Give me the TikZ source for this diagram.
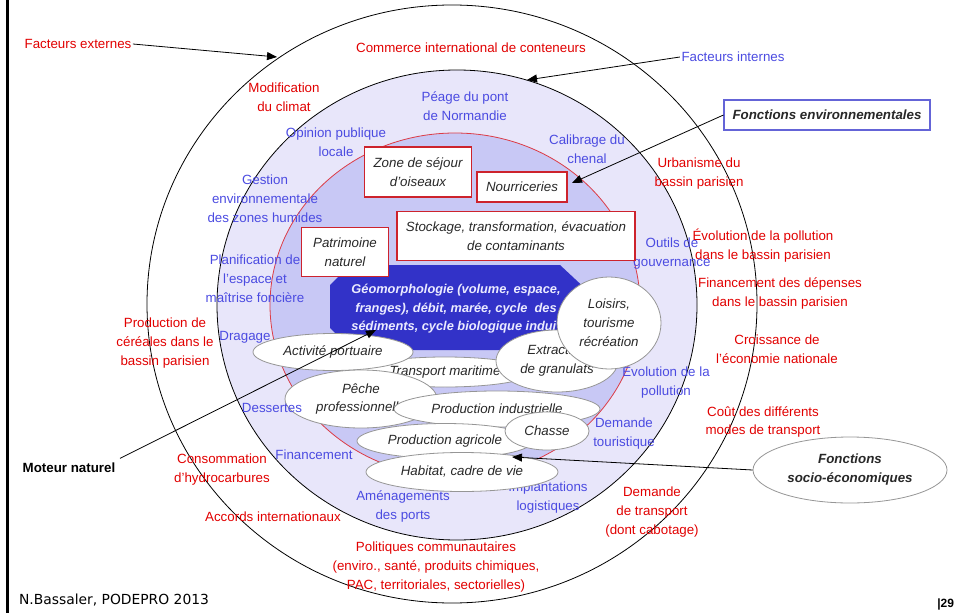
\documentclass[tikz,border=0pt]{standalone}
\usepackage{fontspec}
\setmainfont{Liberation Sans}
\newfontfamily\creditfont{DejaVu Sans}
\usetikzlibrary{shapes.geometric, arrows.meta}
\definecolor{extred}{RGB}{225,0,0}
\definecolor{intblue}{RGB}{75,75,225}
\definecolor{ringfill}{RGB}{232,230,250}
\definecolor{corefill}{RGB}{200,200,245}
\definecolor{corered}{RGB}{220,60,70}
\definecolor{geoblue}{RGB}{50,50,200}
\definecolor{geotext}{RGB}{235,235,255}
\definecolor{boxred}{RGB}{205,35,45}
\definecolor{boxblue}{RGB}{100,100,215}
\definecolor{ovalgray}{RGB}{150,150,150}
\definecolor{darktext}{RGB}{40,40,40}
\tikzset{
    extlabel/.style={
        text=extred, align=center, inner sep=1pt,
        font=\fontsize{10}{14.2}\selectfont
    },
    intlabel/.style={
        text=intblue, align=center, inner sep=1pt,
        font=\fontsize{10}{14.2}\selectfont
    },
    fonction/.style={
        rectangle, draw=boxred, line width=0.8pt, fill=white,
        inner sep=0pt, align=center, text=darktext,
        font=\fontsize{10}{14.2}\selectfont\itshape
    },
    activite/.style={
        ellipse, draw=ovalgray, line width=0.6pt, fill=white,
        inner sep=0pt, align=center, text=darktext,
        font=\fontsize{10}{14.2}\selectfont\itshape
    },
    dims/.style 2 args={minimum width=#1*0.75pt, minimum height=#2*0.75pt},
    pointer/.style={draw=black, line width=0.6pt, -{Triangle[length=7.5pt, width=6pt]}},
    ring/.style={draw=black, line width=0.6pt}
}

\begin{document}
\begin{tikzpicture}[x=0.75pt, y=-0.75pt]
\useasboundingbox (0,0) rectangle (955,613);

% Slide border
\draw[line width=2.4pt] (7.5,0) -- (7.5,613);

% Rings
\draw[ring] (452,304) ellipse [x radius=305, y radius=299];
\filldraw[ring, fill=ringfill] (457,305) ellipse [x radius=240, y radius=235];
\filldraw[fill=corefill, draw=corered, line width=0.6pt] (455,305) ellipse [x radius=185, y radius=172];

% External factors
\node[extlabel] (extlab) at (78,44) {Facteurs externes};
\node[extlabel] (commerce) at (471,48) {Commerce international de conteneurs};
\node[extlabel] (climat) at (284,97.5) {Modification\\du climat};
\node[extlabel] (urbanisme) at (699,173.5) {Urbanisme du\\bassin parisien};
\node[extlabel] (polbassin) at (763,245.5) {Évolution de la pollution\\dans le bassin parisien};
\node[extlabel] (depenses) at (780,293.5) {Financement des dépenses\\dans le bassin parisien};
\node[extlabel] (croissance) at (777,349.5) {Croissance de\\l'économie nationale};
\node[extlabel] (cout) at (763,422) {Coût des différents\\modes de transport};
\node[extlabel] (demtransport) at (652,512) {Demande\\de transport\\(dont cabotage)};
\node[extlabel] (politiques) at (436,567) {Politiques communautaires\\(enviro., santé, produits chimiques,\\PAC, territoriales, sectorielles)};
\node[extlabel] (accords) at (273,517) {Accords internationaux};
\node[extlabel] (hydro) at (222,469.5) {Consommation\\d'hydrocarbures};
\node[extlabel] (cereales) at (165,343) {Production de\\céréales dans le\\bassin parisien};

% Internal factors
\node[intlabel] (intlab) at (733,57) {Facteurs internes};
\node[intlabel] (peage) at (465,106) {Péage du pont\\de Normandie};
\node[intlabel] (opinion) at (336,142.5) {Opinion publique\\locale};
\node[intlabel] (calibrage) at (587,149.5) {Calibrage du\\chenal};
\node[intlabel] (gestion) at (265,199) {Gestion\\environnementale\\des zones humides};
\node[intlabel] (planif) at (255,279) {Planification de\\l'espace et\\maîtrise foncière};
\node[intlabel] (outils) at (672,254) {Outils de\\gouvernance};
\node[intlabel] (financement) at (314,455) {Financement};
\node[intlabel] (amenag) at (403,506.5) {Aménagements\\des ports};
\node[intlabel] (implant) at (548,497.5) {Implantations\\logistiques};
\node[intlabel] (evolpol) at (666,382.5) {Evolution de la\\pollution};
\node[intlabel] (demtour) at (624,433.5) {Demande\\touristique};

% Natural engine
\fill[geoblue] (350,265) -- (560,265) -- (590,293) -- (590,328) -- (568,350)
    -- (352,350) -- (330,328) -- (330,285) -- cycle;
\node[align=center, text=geotext, font=\fontsize{9.6}{13.8}\selectfont\bfseries\itshape] (geo) at (456,309)
    {Géomorphologie (volume, espace,\\franges), débit, marée, cycle~ des\\sédiments, cycle biologique induit};

% Environmental functions
\node[fonction, dims={107}{50}] (sejour) at (418,172) {Zone de séjour\\d'oiseaux};
\node[fonction, dims={90}{30}] (nourr) at (522,187) {Nourriceries};
\node[fonction, dims={238}{49}] (stockage) at (516,236) {Stockage, transformation, évacuation\\de contaminants};
\node[fonction, dims={87}{49}] (patrimoine) at (345,252) {Patrimoine\\naturel};

% Socio-economic functions
\node[activite, dims={176}{30}] (transport) at (445,372) {Transport maritime};
\node[activite, dims={160}{37}] (portuaire) at (333,352) {Activité portuaire};
\node[activite, dims={152}{58}] (peche) at (361,399) {Pêche\\professionnelle};
\node[activite, dims={206}{36}] (industrie) at (497,409) {Production industrielle};
\node[activite, dims={122}{62}] (extraction) at (557,361) {Extraction\\de granulats};
\node[activite, dims={104}{92}] (loisirs) at (609,323) {Loisirs,\\tourisme\\récréation};
\node[activite, dims={176}{35}] (agricole) at (445,441) {Production agricole};
\node[activite, dims={192}{39}] (habitat) at (462,472) {Habitat, cadre de vie};
\node[activite, dims={84}{38}] (chasse) at (547,431) {Chasse};

% Labels lying over the ovals
\node[intlabel] (dragage) at (245,337) {Dragage};
\node[intlabel] (dessertes) at (272,408) {Dessertes};

% Legend
\node[fonction, draw=boxblue, dims={206}{30}, font=\fontsize{10}{14.2}\selectfont\bfseries\itshape] (envbox) at (827,115) {Fonctions environnementales};
\node[activite, dims={194}{66}, font=\fontsize{10}{14.2}\selectfont\bfseries\itshape] (socio) at (850,470) {Fonctions\\socio-économiques};
\node[font=\fontsize{10}{14.2}\selectfont\bfseries] (moteur) at (69,468) {Moteur naturel};
\node[font=\creditfont\fontsize{10.4}{12}\selectfont] (credit) at (114,600) {N.Bassaler, PODEPRO 2013};
\node[anchor=west, inner sep=0pt, font=\fontsize{9}{10}\selectfont\bfseries] (pagenum) at (937,604) {|29};

% Pointers
\coordinate (extTip) at (277,57);
\coordinate (intTip) at (527,80);
\coordinate (envTip) at (572,183);
\coordinate (moteurTip) at (376,330);
\coordinate (socioTip) at (512,457);

\draw[pointer] (extlab.east) -- (extTip);
\draw[pointer] (intlab.west) -- (intTip);
\draw[pointer] (envbox.west) -- (envTip);
\draw[pointer] (moteur.north east) -- (moteurTip);
\draw[pointer] (socio.west) -- (socioTip);

\end{tikzpicture}
\end{document}
